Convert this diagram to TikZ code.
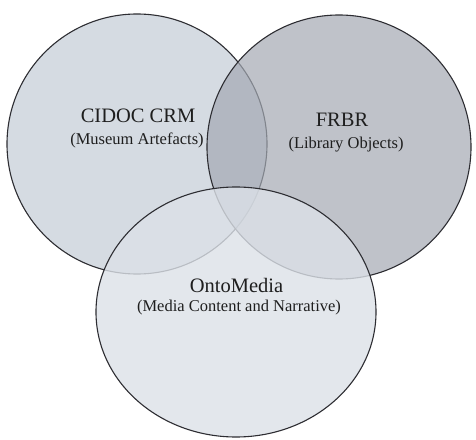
\documentclass[tikz,border=0pt]{standalone}
\usepackage{fontspec}
\setmainfont{Liberation Serif}
\definecolor{leftfill}{RGB}{213,219,226}
\definecolor{rightfill}{RGB}{164,169,179}
\definecolor{botfill}{RGB}{220,225,232}
\definecolor{edge}{RGB}{45,45,50}
\definecolor{txt}{RGB}{30,30,30}
\tikzset{
  setcircle/.style={draw=edge, line width=1.1pt},
  titletext/.style={anchor=base, inner sep=0pt, text=txt, font=\fontsize{20.5}{22}\selectfont},
  subtext/.style={anchor=base, inner sep=0pt, text=txt, font=\fontsize{16.5}{20}\selectfont}
}
\begin{document}
\begin{tikzpicture}[x=1pt,y=1pt]
\useasboundingbox (0,0) rectangle (476,439);
\fill[white] (0,0) rectangle (476,439);
% circles
\path[setcircle, fill=leftfill] (137,295) circle [radius=130];
\path[setcircle, fill=rightfill, fill opacity=0.7] (339,292) circle [radius=132];
\path[setcircle, fill=botfill, fill opacity=0.8] (236,127) ellipse [x radius=140, y radius=125];
% labels
\node[titletext] (cidoc) at (138,316) {CIDOC CRM};
\node[subtext] (cidocsub) at (137,294) {(Museum Artefacts)};
\node[titletext] (frbr) at (342,312) {FRBR};
\node[subtext] (frbrsub) at (346,290) {(Library Objects)};
\node[titletext] (onto) at (236.5,146) {OntoMedia};
\node[subtext] (ontosub) at (239,127) {(Media Content and Narrative)};
\end{tikzpicture}
\end{document}
